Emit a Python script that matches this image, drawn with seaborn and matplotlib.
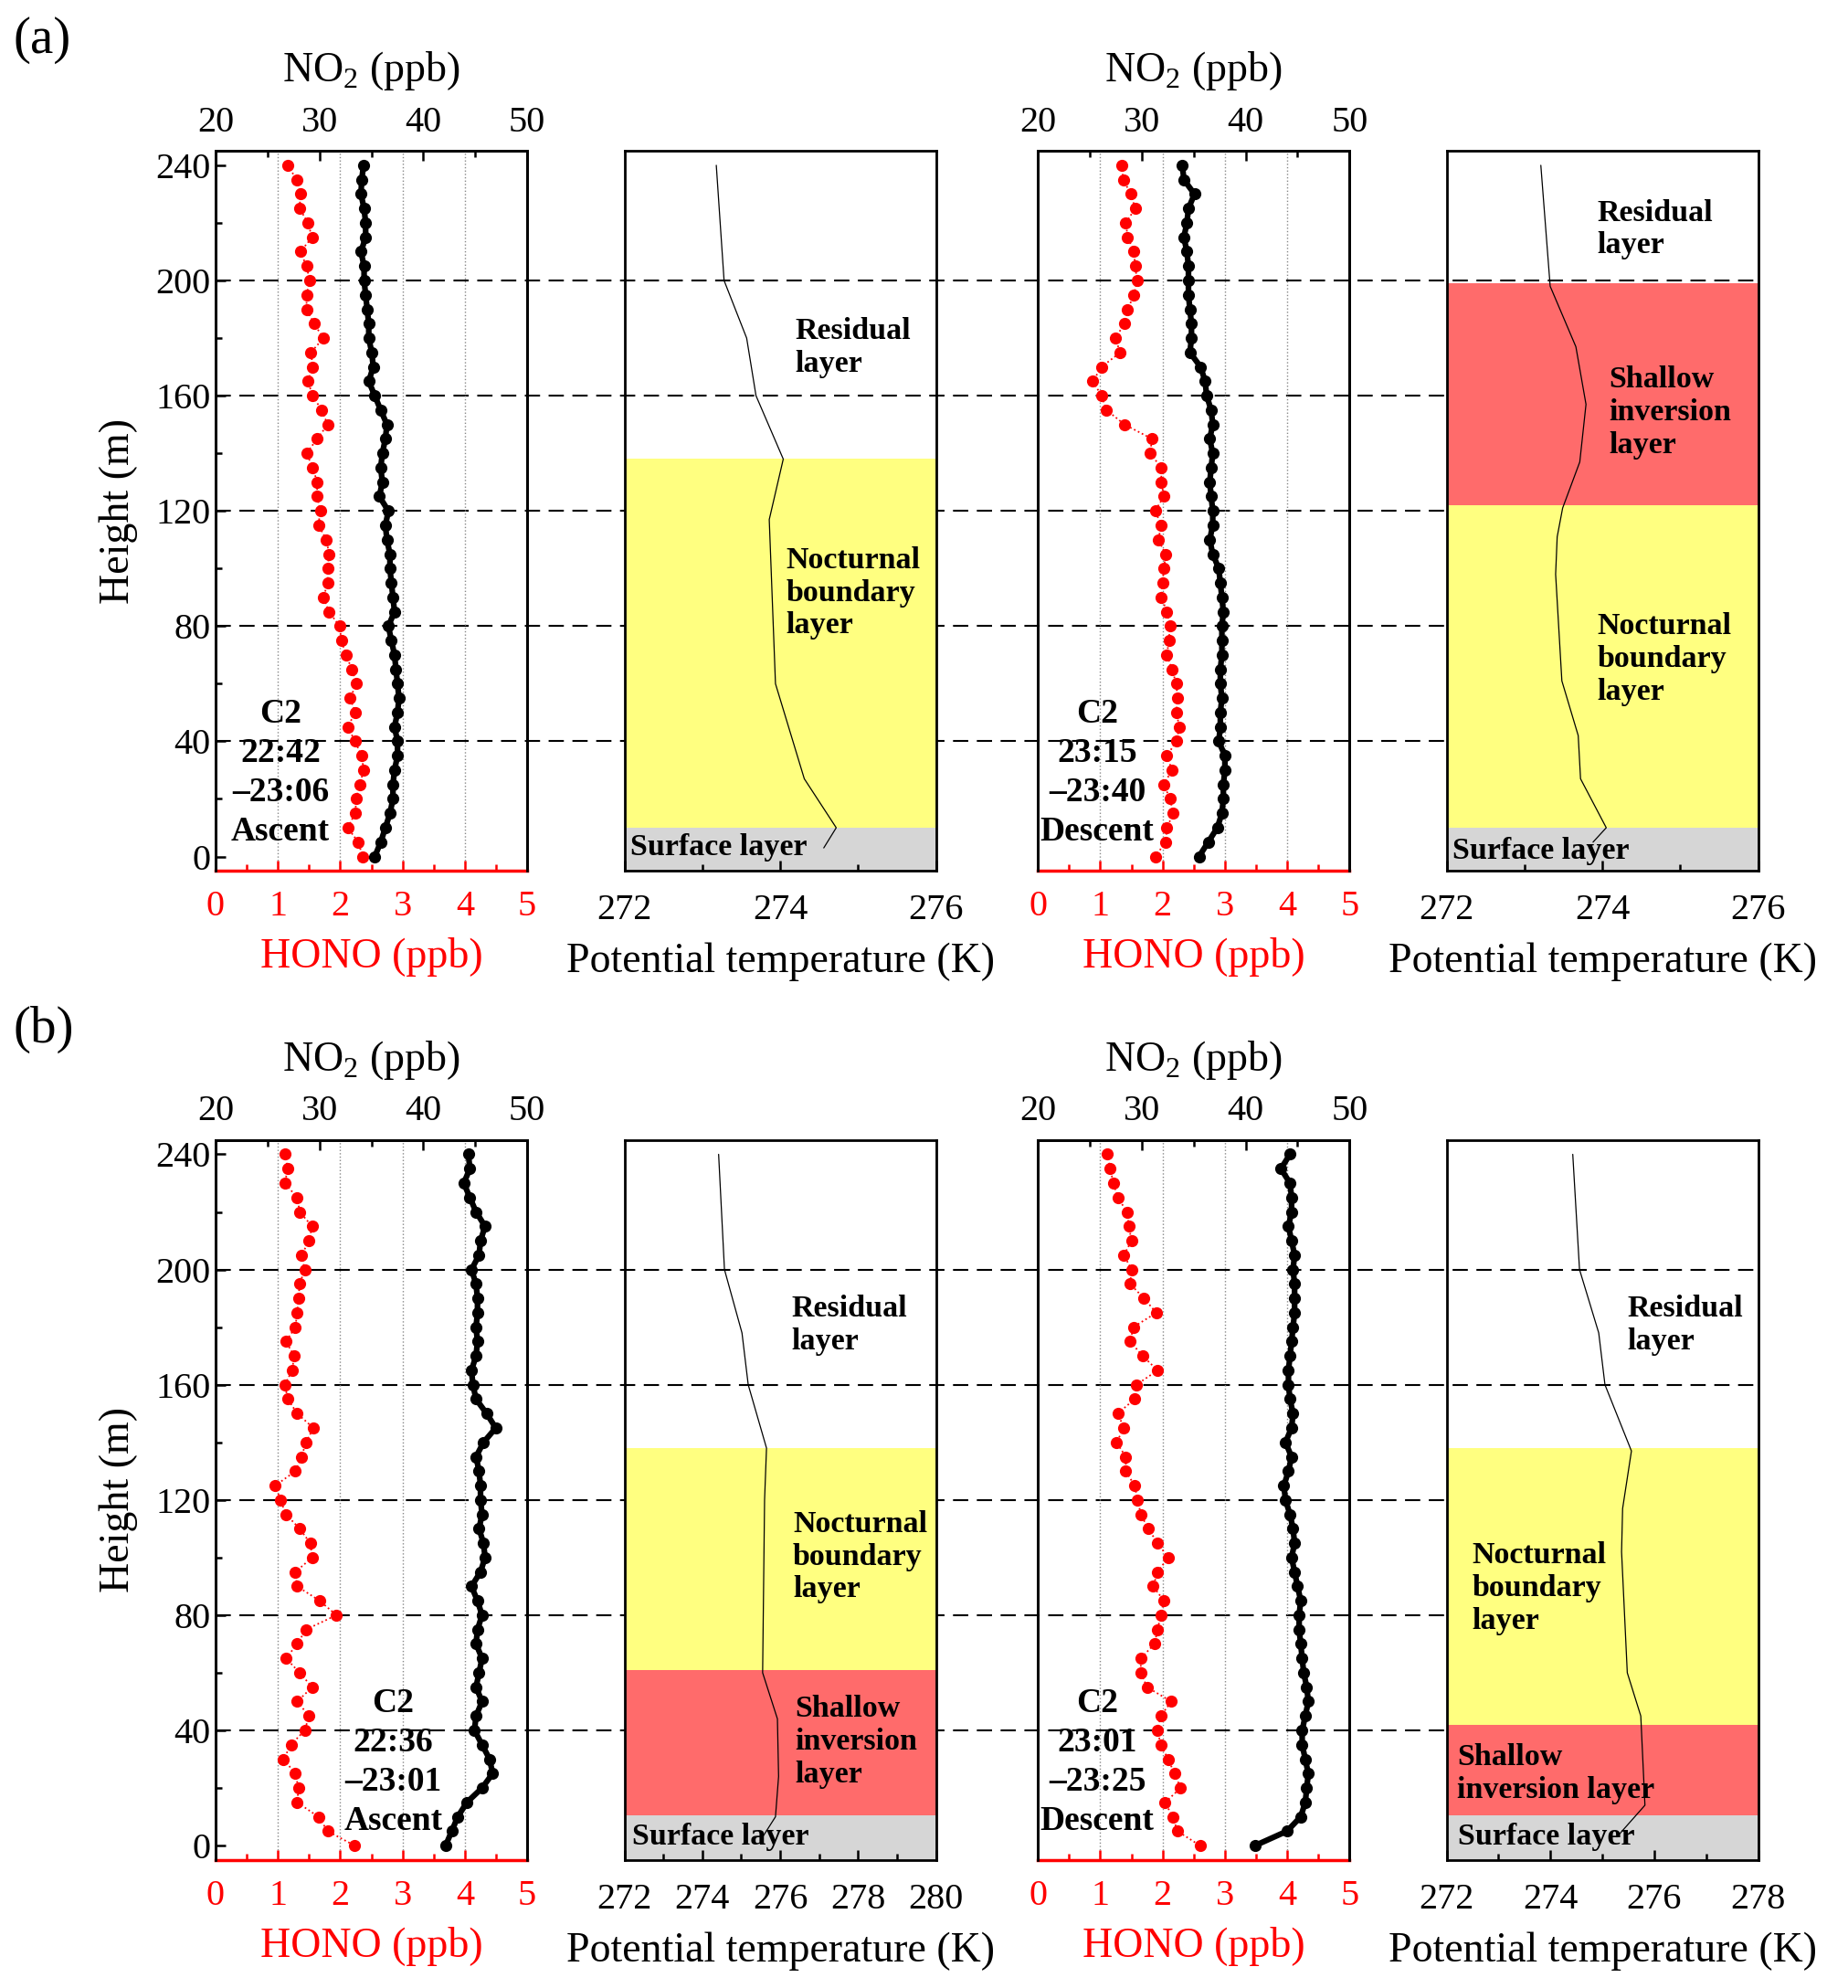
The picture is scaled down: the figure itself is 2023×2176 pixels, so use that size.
import numpy as np
import matplotlib
matplotlib.use('Agg')
import matplotlib.pyplot as plt
import matplotlib.transforms as mtransforms
from matplotlib.lines import Line2D
from matplotlib.ticker import MultipleLocator
import seaborn as sns

sns.set_theme(style='ticks')
plt.rcParams['font.family'] = ['Liberation Serif', 'DejaVu Serif']
plt.rcParams['mathtext.fontset'] = 'custom'
plt.rcParams['mathtext.rm'] = 'Liberation Serif'
for k in ['text.color', 'axes.labelcolor', 'xtick.color', 'ytick.color', 'axes.edgecolor']:
    plt.rcParams[k] = 'black'

# sampling heights of the profiles (m), top to bottom
heights = [240, 235, 230, 225, 220, 215, 210, 205, 200, 195, 190, 185, 180, 175, 170, 165,
           160, 155, 150, 145, 140, 135, 130, 125, 120, 115, 110, 105, 100, 95, 90, 85,
           80, 75, 70, 65, 60, 55, 50, 45, 40, 35, 30, 25, 20, 15, 10, 5, 0]

# (a) ascent 22:42-23:06
a_asc_hono = [1.16, 1.30, 1.36, 1.35, 1.48, 1.55, 1.36, 1.46, 1.51, 1.46, 1.46, 1.58, 1.73, 1.53, 1.56, 1.48,
              1.56, 1.70, 1.80, 1.63, 1.46, 1.56, 1.63, 1.63, 1.68, 1.65, 1.78, 1.82, 1.80, 1.80, 1.73, 1.82,
              1.99, 2.02, 2.09, 2.19, 2.26, 2.16, 2.24, 2.12, 2.24, 2.34, 2.38, 2.31, 2.26, 2.24, 2.12, 2.29, 2.36]
a_asc_no2 = [34.25, 34.07, 34.0, 34.3, 34.45, 34.45, 34.0, 34.3, 34.3, 34.45, 34.6, 34.75, 34.75, 35.04, 35.18, 34.75,
             35.33, 35.9, 36.5, 36.35, 36.06, 35.9, 36.06, 35.77, 36.64, 36.35, 36.5, 36.79, 36.79, 36.93, 37.08, 37.23,
             36.64, 36.93, 37.23, 37.37, 37.52, 37.66, 37.52, 37.23, 37.52, 37.52, 37.23, 37.08, 37.08, 36.79, 36.35, 35.9, 35.33]
# (a) descent 23:15-23:40
a_des_hono = [1.34, 1.37, 1.49, 1.56, 1.41, 1.44, 1.54, 1.56, 1.59, 1.54, 1.44, 1.39, 1.24, 1.32, 1.02, 0.88,
              1.02, 1.10, 1.39, 1.83, 1.80, 1.98, 1.98, 2.02, 1.88, 1.98, 1.93, 2.05, 2.02, 2.00, 1.98, 2.07,
              2.12, 2.10, 2.07, 2.15, 2.22, 2.24, 2.22, 2.27, 2.22, 2.07, 2.15, 2.02, 2.12, 2.17, 2.07, 2.05, 1.88]
a_des_no2 = [33.9, 34.05, 35.07, 34.49, 34.34, 34.05, 34.34, 34.49, 34.49, 34.49, 34.63, 34.78, 34.78, 34.63, 35.66, 36.1,
             36.24, 36.68, 36.83, 36.54, 36.83, 36.68, 36.54, 36.68, 36.83, 36.83, 36.54, 36.83, 37.41, 37.56, 37.71, 37.85,
             37.71, 37.71, 37.71, 37.56, 37.56, 37.71, 37.56, 37.56, 37.41, 38.0, 38.0, 37.85, 37.85, 37.71, 37.27, 36.39, 35.51]
# (b) ascent 22:36-23:01
b_asc_hono = [1.11, 1.16, 1.11, 1.31, 1.35, 1.55, 1.50, 1.38, 1.43, 1.35, 1.33, 1.31, 1.28, 1.13, 1.26, 1.23,
              1.11, 1.16, 1.31, 1.57, 1.45, 1.38, 1.28, 0.96, 1.04, 1.13, 1.35, 1.52, 1.55, 1.28, 1.31, 1.67,
              1.94, 1.45, 1.31, 1.13, 1.35, 1.55, 1.31, 1.50, 1.43, 1.21, 1.09, 1.28, 1.33, 1.31, 1.65, 1.80, 2.23]
b_asc_no2 = [44.34, 44.49, 43.9, 44.49, 45.08, 45.95, 45.51, 45.37, 44.64, 45.08, 45.22, 45.22, 45.08, 45.22, 45.08, 44.64,
             44.78, 45.08, 46.1, 46.98, 45.8, 45.08, 45.37, 45.51, 45.51, 45.66, 45.37, 45.8, 45.95, 45.51, 44.64, 45.22,
             45.66, 45.22, 45.08, 45.66, 45.37, 45.08, 45.66, 45.08, 44.93, 45.66, 46.39, 46.68, 45.66, 44.2, 43.32, 42.74, 42.15]
# (b) descent 23:01-23:25
b_des_hono = [1.11, 1.16, 1.21, 1.28, 1.43, 1.46, 1.50, 1.38, 1.50, 1.48, 1.70, 1.90, 1.53, 1.48, 1.68, 1.92,
              1.58, 1.55, 1.28, 1.38, 1.26, 1.41, 1.41, 1.55, 1.60, 1.65, 1.77, 1.92, 2.09, 1.92, 1.85, 2.02,
              1.97, 1.92, 1.87, 1.65, 1.65, 1.75, 2.14, 1.97, 1.92, 1.97, 2.09, 2.19, 2.29, 2.04, 2.16, 2.24, 2.60]
b_des_no2 = [44.27, 43.39, 44.27, 44.42, 44.42, 44.12, 44.42, 44.71, 44.56, 44.71, 44.71, 44.71, 44.56, 44.42, 44.27, 44.12,
             44.12, 44.27, 44.56, 44.42, 43.83, 44.42, 44.12, 43.68, 43.83, 44.27, 44.56, 44.71, 44.42, 44.71, 45.0, 45.30,
             45.15, 45.15, 45.30, 45.44, 45.59, 45.88, 46.03, 45.74, 45.44, 45.44, 45.74, 46.03, 45.88, 45.74, 45.30, 43.98, 40.9]

# potential temperature profiles
a2_h = [240, 200, 180, 160, 138, 117, 60, 27, 10, 3]
a2_theta = [273.18, 273.28, 273.57, 273.69, 274.04, 273.86, 273.94, 274.31, 274.72, 274.56]
a4_h = [240, 198, 177, 157, 137, 121, 111, 98, 61, 42, 27, 10, 5]
a4_theta = [273.21, 273.33, 273.66, 273.79, 273.71, 273.49, 273.42, 273.40, 273.48, 273.69, 273.72, 274.05, 273.88]
b2_h = [240, 200, 178, 160, 138, 120, 60, 44, 24, 10, 3]
b2_theta = [274.42, 274.57, 275.02, 275.18, 275.65, 275.60, 275.55, 275.93, 275.96, 275.88, 275.55]
b4_h = [240, 200, 178, 160, 137, 117, 102, 60, 45, 14, 3]
b4_theta = [274.43, 274.56, 274.93, 275.05, 275.56, 275.39, 275.37, 275.48, 275.74, 275.82, 275.28]

YELLOW = '#ffff80'
RED = '#ff6b6b'
GRAY = '#d6d6d6'
YLIM = (-5, 245)

fig = plt.figure(figsize=(20.24, 21.76), dpi=100)
lefts = [0.1166, 0.3377, 0.5614, 0.7824]
W, H = 0.1685, 0.3622
bottoms = [0.5619, 0.0644]


def profile(ax, hono, no2, note, note_x, ylabel):
    ax.set_facecolor('none')
    sns.lineplot(x=hono, y=heights, sort=False, estimator=None, color='red', marker='o',
                 markersize=9.5, markeredgewidth=0, linestyle=':', linewidth=1.3, ax=ax)
    ax.set_xlim(0, 5)
    ax.set_ylim(*YLIM)
    ax.xaxis.set_major_locator(MultipleLocator(1))
    ax.xaxis.set_minor_locator(MultipleLocator(0.5))
    ax.yaxis.set_major_locator(MultipleLocator(40))
    ax.yaxis.set_minor_locator(MultipleLocator(20))
    ax.grid(axis='x', which='major', color='#888888', linestyle=':', linewidth=1.0)
    ax.tick_params(which='both', direction='in', top=False, right=False, width=1.8)
    ax.tick_params(which='major', length=8)
    ax.tick_params(which='minor', length=5)
    ax.tick_params(axis='x', which='both', colors='red', labelsize=29, pad=15)
    ax.tick_params(axis='y', labelsize=29, pad=4)
    for s in ['left', 'right', 'top']:
        ax.spines[s].set_linewidth(2)
        ax.spines[s].set_color('black')
    ax.spines['bottom'].set_color('red')
    ax.spines['bottom'].set_linewidth(2.5)
    ax.set_xlabel('HONO (ppb)', color='red', fontsize=33, labelpad=11)
    if ylabel:
        ax.set_ylabel('Height (m)', fontsize=33, labelpad=14)
    else:
        ax.set_ylabel('')
        ax.tick_params(axis='y', which='both', left=False, labelleft=False)

    top = ax.twiny()
    top.set_facecolor('none')
    sns.lineplot(x=no2, y=heights, sort=False, estimator=None, color='black', marker='o',
                 markersize=9.5, markeredgewidth=0, linestyle='-', linewidth=4.5, ax=top)
    top.set_xlim(20, 50)
    top.set_ylim(*YLIM)
    top.xaxis.set_major_locator(MultipleLocator(10))
    top.xaxis.set_minor_locator(MultipleLocator(5))
    top.tick_params(axis='x', which='both', direction='in', width=1.8, labelsize=29, pad=9)
    top.tick_params(axis='x', which='major', length=8)
    top.tick_params(axis='x', which='minor', length=5)
    top.spines['bottom'].set_visible(False)
    for s in ['left', 'right', 'top']:
        top.spines[s].set_linewidth(2)
    top.set_xlabel(r'NO$_\mathregular{2}$ (ppb)', fontsize=33, labelpad=19)

    ax.text(note_x, 0.136, note, transform=ax.transAxes, ha='center', va='center',
            multialignment='center', fontsize=27, fontweight='bold', linespacing=1.3, zorder=5)


def theta_panel(ax, theta, h, xmax, bands, labels):
    ax.set_facecolor('none')
    for lo, hi, c in bands:
        ax.axhspan(lo, hi, color=c, linewidth=0, zorder=0)
    sns.lineplot(x=theta, y=h, sort=False, estimator=None, color='black', linewidth=0.9, ax=ax)
    ax.set_xlim(272, xmax)
    ax.set_ylim(*YLIM)
    ax.xaxis.set_major_locator(MultipleLocator(2))
    ax.xaxis.set_minor_locator(MultipleLocator(1))
    ax.set_yticks([])
    ax.set_ylabel('')
    ax.tick_params(axis='x', which='both', direction='in', width=1.8, labelsize=29, pad=18)
    ax.tick_params(axis='x', which='major', length=8)
    ax.tick_params(axis='x', which='minor', length=5)
    for s in ax.spines.values():
        s.set_linewidth(2)
        s.set_color('black')
    ax.set_xlabel('Potential temperature (K)', fontsize=33, labelpad=12)
    for x, y, t in labels:
        ax.text(x, y, t, transform=ax.transAxes, ha='left', va='center', fontsize=24.5,
                fontweight='bold', linespacing=1.2, zorder=5)


rows = [
    dict(tag='(a)', tag_y=0.9796, asc=(a_asc_hono, a_asc_no2, 'C2\n22:42\n–23:06\nAscent'),
         des=(a_des_hono, a_des_no2, 'C2\n23:15\n–23:40\nDescent'),
         t2=(a2_theta, a2_h, 276, [(-5, 10, GRAY), (10, 138, YELLOW)],
             [(0.549, 0.727, 'Residual\nlayer'), (0.52, 0.386, 'Nocturnal\nboundary\nlayer'),
              (0.02, 0.033, 'Surface layer')]),
         t4=(a4_theta, a4_h, 276, [(-5, 10, GRAY), (10, 122, YELLOW), (122, 199, RED)],
             [(0.484, 0.891, 'Residual\nlayer'), (0.52, 0.637, 'Shallow\ninversion\nlayer'),
              (0.484, 0.294, 'Nocturnal\nboundary\nlayer'), (0.02, 0.028, 'Surface layer')])),
    dict(tag='(b)', tag_y=0.482, asc=(b_asc_hono, b_asc_no2, 'C2\n22:36\n–23:01\nAscent'),
         des=(b_des_hono, b_des_no2, 'C2\n23:01\n–23:25\nDescent'),
         t2=(b2_theta, b2_h, 280, [(-5, 10.6, GRAY), (10.6, 61, RED), (61, 138, YELLOW)],
             [(0.537, 0.743, 'Residual\nlayer'), (0.541, 0.421, 'Nocturnal\nboundary\nlayer'),
              (0.549, 0.164, 'Shallow\ninversion\nlayer'), (0.024, 0.032, 'Surface layer')]),
         t4=(b4_theta, b4_h, 278, [(-5, 10.6, GRAY), (10.6, 42, RED), (42, 138, YELLOW)],
             [(0.581, 0.743, 'Residual\nlayer'), (0.081, 0.377, 'Nocturnal\nboundary\nlayer'),
              (0.033, 0.12, 'Shallow\ninversion layer'), (0.037, 0.032, 'Surface layer')])),
]

for r, row in enumerate(rows):
    b = bottoms[r]
    axs = [fig.add_axes([l, b, W, H]) for l in lefts]
    profile(axs[0], *row['asc'][:2], row['asc'][2], 0.208 if r == 0 else 0.57, True)
    theta_panel(axs[1], *row['t2'])
    profile(axs[2], *row['des'][:2], row['des'][2], 0.19, False)
    theta_panel(axs[3], *row['t4'])

    # dashed height guides running behind all four panels
    trans = mtransforms.blended_transform_factory(fig.transFigure, axs[0].transData)
    for yv in [40, 80, 120, 160, 200]:
        fig.add_artist(Line2D([lefts[0], lefts[3] + W], [yv, yv], transform=trans, color='black',
                              linestyle=(0, (8, 4.5)), linewidth=1.5, zorder=-1))
    fig.text(0.007, row['tag_y'], row['tag'], fontsize=41, ha='left', va='center')

fig.savefig('out.png', dpi=100)
